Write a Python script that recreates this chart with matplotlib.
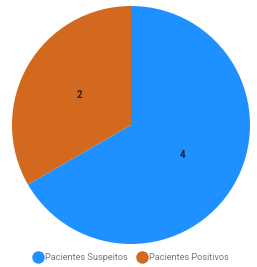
import matplotlib
matplotlib.use("Agg")
import matplotlib.pyplot as plt
from matplotlib.lines import Line2D

categories = ["Pacientes Suspeitos", "Pacientes Positivos"]
values = [4, 2]
colors = ["#1E90FF", "#D2691E"]

W, H = 257, 267
fig = plt.figure(figsize=(W / 100, H / 100), dpi=100)
cx, cy, r = 131, 125, 119
ax = fig.add_axes([(cx - r) / W, (H - cy - r) / H, 2 * r / W, 2 * r / H])
wedges, texts = ax.pie(values, colors=colors, startangle=90, counterclock=False,
                       labels=[str(v) for v in values], labeldistance=0.5,
                       radius=1, wedgeprops=dict(linewidth=0),
                       textprops=dict(fontsize=7, fontweight="bold", color="#222222",
                                      family="Roboto"))
for t in texts:
    t.set_ha("center"); t.set_va("center")
ax.set_xlim(-1, 1); ax.set_ylim(-1, 1)
ax.set_aspect("equal")
ax.axis("off")

handles = [Line2D([], [], marker="o", linestyle="", markersize=9,
                  markerfacecolor=c, markeredgewidth=0) for c in colors]
fig.legend(handles, categories, loc="center", bbox_to_anchor=(0.51, 1 - 258 / H),
           ncol=2, frameon=False, prop=dict(family="Roboto", size=6.6),
           labelcolor="#777777",
           handletextpad=0.25, columnspacing=1.1, handlelength=1.0)

fig.savefig("out.png", dpi=100)
